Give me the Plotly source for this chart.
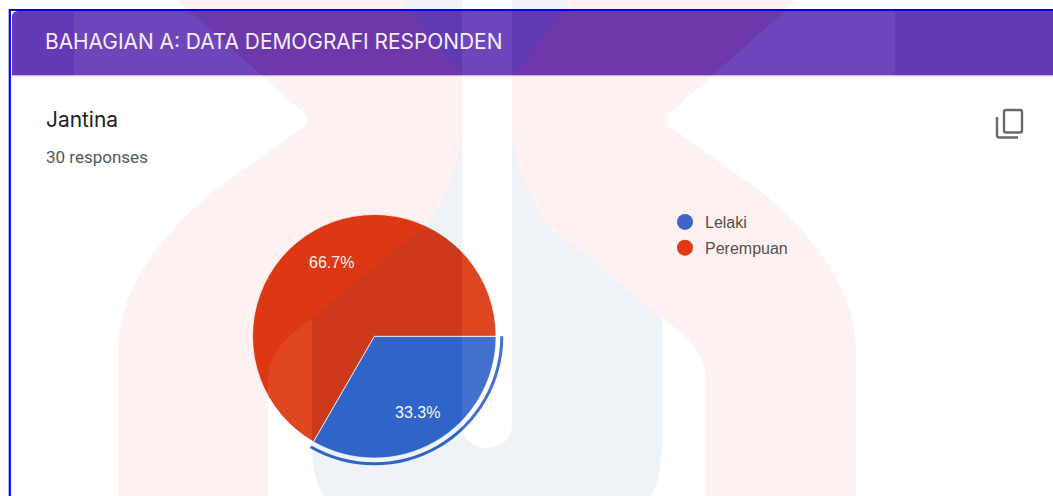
import math
import plotly.graph_objects as go

# ---- data ----
categories = ["Lelaki", "Perempuan"]
responses = [10, 20]
slice_colors = ["#3366cc", "#dc3912"]
legend_colors = ["#3e66c9", "#e03a13"]
header_text = "BAHAGIAN A: DATA DEMOGRAFI RESPONDEN"
question_text = "Jantina"
count_text = "30 responses"

# ---- page geometry (pixels) ----
W, H = 1053, 496
CX, CY, R, ARC_R, ARC_IN = 374.3, 336.3, 121.8, 129.0, 126.0
LABEL_R = 0.71 * R
MIRROR = 974


def dom(radius):
    return dict(
        x=[(CX - radius) / W, (CX + radius) / W],
        y=[1 - (CY + radius) / H, 1 - (CY - radius) / H],
    )


def path(cmds, mirror=False):
    out = []
    for cmd, *pts in cmds:
        coords = " ".join(
            f"{(MIRROR - x) if mirror else x},{y}" for x, y in pts
        )
        out.append(f"{cmd}{coords}")
    return " ".join(out) + " Z"


pink = [
    ("M", (177, 0)), ("L", (305, 114)), ("Q", (312, 120), (305, 126)),
    ("L", (215, 190)), ("C", (160, 235), (118, 290), (118, 352)),
    ("L", (118, 496)), ("L", (268, 496)), ("L", (268, 380)),
    ("C", (268, 350), (290, 335), (312, 318)), ("L", (420, 230)),
    ("C", (437, 215), (462, 170), (462, 120)), ("L", (462, 76)), ("L", (403, 0)),
]
blue_u = [
    ("M", (312, 318)), ("L", (420, 230)),
    ("C", (437, 215), (462, 170), (462, 120)), ("L", (462, 425)),
    ("C", (462, 440), (475, 448), (487, 448)),
    ("C", (499, 448), (512, 440), (512, 425)), ("L", (512, 120)),
    ("C", (512, 170), (537, 215), (554, 230)), ("L", (662, 318)),
    ("L", (662, 440)), ("C", (662, 470), (656, 490), (650, 496)),
    ("L", (324, 496)), ("C", (318, 490), (312, 470), (312, 440)),
]
tri = [("M", (403, 0)), ("L", (462, 0)), ("L", (462, 76))]

pink_path = path(pink) + " " + path(pink, True)
blue_path = path(blue_u) + " " + path(tri) + " " + path(tri, True)
image_rect = "M74,0 L895,0 L895,496 L74,496 Z"

WM = 0.07
shapes = [
    dict(type="path", path="M12,75.5 L12,17 Q12,11 18,11 L1053,11 L1053,75.5 Z",
         fillcolor="#6539b5", line_width=0, layer="below"),
    dict(type="line", x0=12, x1=1053, y0=75.7, y1=75.7,
         line=dict(color="#cdbbe8", width=1), layer="below"),
    # translucent watermark lying over the whole page
    dict(type="path", path=image_rect + " " + pink_path + " " + blue_path,
         fillrule="evenodd", fillcolor=f"rgba(255,255,255,{WM})",
         line_width=0, layer="above"),
    dict(type="path", path=pink_path, fillcolor="rgba(245,50,40,0.065)",
         line_width=0, layer="above"),
    dict(type="path", path=blue_path, fillcolor=f"rgba(12,84,154,{WM})",
         line_width=0, layer="above"),
    # window border
    dict(type="path", path="M9.8,496 L9.8,10 L1053,10",
         line=dict(color="#0000ff", width=2.2), fillcolor="rgba(0,0,0,0)", layer="above"),
    # copy icon
    dict(type="path", path="M1006,110 L1020,110 Q1022,110 1022,112 L1022,130.5 Q1022,132.5 1020,132.5 L1006,132.5 Q1004,132.5 1004,130.5 L1004,112 Q1004,110 1006,110",
         line=dict(color="#666a6e", width=2.4), fillcolor="rgba(0,0,0,0)", layer="above"),
    dict(type="path", path="M997,117 L997,135 Q997,137.5 999.5,137.5 L1018,137.5",
         line=dict(color="#666a6e", width=2.4), fillcolor="rgba(0,0,0,0)", layer="above"),
]

fig = go.Figure()
fig.add_trace(go.Pie(
    labels=categories, values=responses, sort=False, direction="clockwise", rotation=90,
    domain=dom(R), marker=dict(colors=slice_colors, line=dict(color="#ffffff", width=0.8)),
    textinfo="none", showlegend=False, hoverinfo="label+percent",
))
fig.add_trace(go.Pie(
    labels=categories, values=responses, sort=False, direction="clockwise", rotation=90,
    domain=dom(ARC_R), hole=ARC_IN / ARC_R,
    marker=dict(colors=[slice_colors[0], "rgba(0,0,0,0)"], line=dict(width=0)),
    textinfo="none", showlegend=False, hoverinfo="skip",
))
for name, color in zip(categories, legend_colors):
    fig.add_trace(go.Scatter(
        x=[None], y=[None], mode="markers", name=name, legendgroup=name,
        marker=dict(symbol="circle", size=16, color=color), hoverinfo="skip",
    ))

annotations = [
    dict(text=header_text, x=45, y=41.5, xanchor="left", yanchor="middle", showarrow=False,
         font=dict(family="Inter", size=20.9, color="#f4eefb")),
    dict(text=question_text, x=46, y=119, xanchor="left", yanchor="middle", showarrow=False,
         font=dict(family="Inter", size=20.9, color="#202124")),
    dict(text=count_text, x=46, y=157, xanchor="left", yanchor="middle", showarrow=False,
         font=dict(family="Roboto", size=17, color="#54575b")),
]

# percentage labels sit on each slice's mid-angle, worked out from the values
total = sum(responses)
start = 0.0
for v in responses:
    mid = math.radians((start + v / 2) / total * 360)
    annotations.append(dict(
        text=f"{v / total:.1%}",
        x=CX + LABEL_R * math.cos(mid), y=CY + LABEL_R * math.sin(mid),
        xanchor="center", yanchor="middle", showarrow=False, yshift=-1,
        font=dict(family="Liberation Sans", size=16, color="#f8f4f2"),
    ))
    start += v

for a in annotations:
    a.update(xref="x", yref="y", borderpad=0, borderwidth=0)

fig.update_layout(
    width=W, height=H, margin=dict(l=0, r=0, t=0, b=0, autoexpand=False),
    paper_bgcolor="#ffffff", plot_bgcolor="rgba(0,0,0,0)",
    xaxis=dict(range=[0, W], visible=False, fixedrange=True, domain=[0, 1]),
    yaxis=dict(range=[H, 0], visible=False, fixedrange=True, domain=[0, 1]),
    shapes=shapes, annotations=annotations,
    legend=dict(x=665 / W, y=1 - 205 / H, xanchor="left", yanchor="top",
                bgcolor="rgba(0,0,0,0)", borderwidth=0, itemsizing="trace",
                tracegroupgap=2, traceorder="grouped",
                font=dict(family="Liberation Sans", size=16, color="#55504f")),
    showlegend=True,
)
fig.write_html(
    "out.html", config=dict(displayModeBar=False, responsive=False),
    post_script="document.body.style.margin='0';document.body.style.overflow='hidden';",
)
